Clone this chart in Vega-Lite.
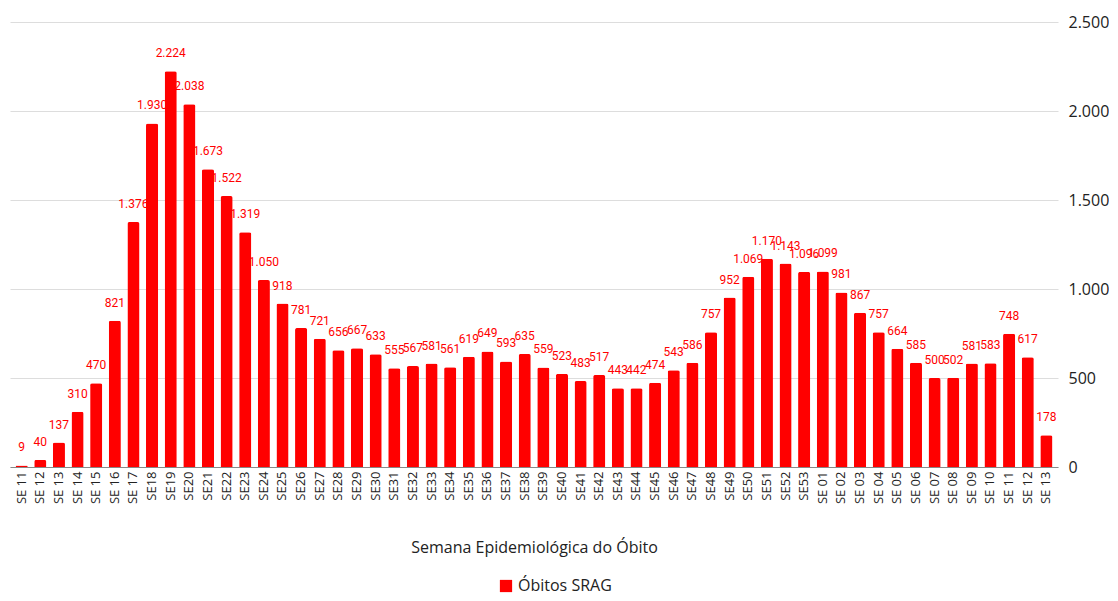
{
  "$schema": "https://vega.github.io/schema/vega-lite/v6.json",
  "width": 1048,
  "height": 445,
  "padding": {"left": 10, "top": 14, "right": 0, "bottom": 0},
  "config": {
    "locale": {"number": {"decimal": ",", "thousands": ".", "grouping": [3], "currency": ["R$", ""]}},
    "view": {"stroke": null},
    "font": "Open Sans"
  },
  "data": {
    "values": [
      {"k": "a01|SE 11", "v": 9}, {"k": "a02|SE 12", "v": 40}, {"k": "a03|SE 13", "v": 137},
      {"k": "a04|SE 14", "v": 310}, {"k": "a05|SE 15", "v": 470}, {"k": "a06|SE 16", "v": 821},
      {"k": "a07|SE 17", "v": 1376}, {"k": "a08|SE18", "v": 1930}, {"k": "a09|SE19", "v": 2224},
      {"k": "a10|SE20", "v": 2038}, {"k": "a11|SE21", "v": 1673}, {"k": "a12|SE22", "v": 1522},
      {"k": "a13|SE23", "v": 1319}, {"k": "a14|SE24", "v": 1050}, {"k": "a15|SE25", "v": 918},
      {"k": "a16|SE26", "v": 781}, {"k": "a17|SE27", "v": 721}, {"k": "a18|SE28", "v": 656},
      {"k": "a19|SE29", "v": 667}, {"k": "a20|SE30", "v": 633}, {"k": "a21|SE31", "v": 555},
      {"k": "a22|SE32", "v": 567}, {"k": "a23|SE33", "v": 581}, {"k": "a24|SE34", "v": 561},
      {"k": "a25|SE35", "v": 619}, {"k": "a26|SE36", "v": 649}, {"k": "a27|SE37", "v": 593},
      {"k": "a28|SE38", "v": 635}, {"k": "a29|SE39", "v": 559}, {"k": "a30|SE40", "v": 523},
      {"k": "a31|SE41", "v": 483}, {"k": "a32|SE42", "v": 517}, {"k": "a33|SE43", "v": 443},
      {"k": "a34|SE44", "v": 442}, {"k": "a35|SE45", "v": 474}, {"k": "a36|SE46", "v": 543},
      {"k": "a37|SE47", "v": 586}, {"k": "a38|SE48", "v": 757}, {"k": "a39|SE49", "v": 952},
      {"k": "a40|SE50", "v": 1069}, {"k": "a41|SE51", "v": 1170}, {"k": "a42|SE52", "v": 1143},
      {"k": "a43|SE53", "v": 1096}, {"k": "b01|SE 01", "v": 1099}, {"k": "b02|SE 02", "v": 981},
      {"k": "b03|SE 03", "v": 867}, {"k": "b04|SE 04", "v": 757}, {"k": "b05|SE 05", "v": 664},
      {"k": "b06|SE 06", "v": 585}, {"k": "b07|SE 07", "v": 500}, {"k": "b08|SE 08", "v": 502},
      {"k": "b09|SE 09", "v": 581}, {"k": "b10|SE 10", "v": 583}, {"k": "b11|SE 11", "v": 748},
      {"k": "b12|SE 12", "v": 617}, {"k": "b13|SE 13", "v": 178}
    ]
  },
  "encoding": {
    "x": {
      "field": "k",
      "type": "nominal",
      "sort": null,
      "scale": {"paddingInner": 0.35, "paddingOuter": 0.3},
      "axis": {
        "title": "Semana Epidemiológica do Óbito",
        "titleFont": "Open Sans",
        "titleFontSize": 16,
        "titleFontWeight": "normal",
        "titleColor": "#222222",
        "titlePadding": 36,
        "labelExpr": "split(datum.value, '|')[1]",
        "labelAngle": -90,
        "labelFontSize": 13,
        "labelColor": "#222222",
        "labelPadding": 4,
        "ticks": false,
        "domainColor": "#888888",
        "grid": false
      }
    },
    "y": {
      "field": "v",
      "type": "quantitative",
      "scale": {"domain": [0, 2500]},
      "axis": {
        "orient": "right",
        "title": null,
        "values": [0, 500, 1000, 1500, 2000, 2500],
        "format": ",d",
        "labelFontSize": 16,
        "labelColor": "#222222",
        "labelPadding": 10,
        "ticks": false,
        "domain": false,
        "gridColor": "#dddddd"
      }
    }
  },
  "layer": [
    {
      "mark": {"type": "bar", "cornerRadiusTopLeft": 2, "cornerRadiusTopRight": 2},
      "encoding": {
        "color": {
          "datum": "Óbitos SRAG",
          "type": "nominal",
          "scale": {"range": ["#ff0000"]},
          "legend": {
            "title": null,
            "orient": "none",
            "legendX": 488,
            "legendY": 556,
            "symbolType": "square",
            "symbolSize": 150,
            "labelFontSize": 16,
            "labelColor": "#222222"
          }
        }
      }
    },
    {
      "mark": {"type": "text", "color": "#ff0000", "font": "Roboto", "fontSize": 12, "baseline": "middle", "dy": -18},
      "encoding": {"text": {"field": "v", "type": "quantitative", "format": ",d"}}
    }
  ]
}
